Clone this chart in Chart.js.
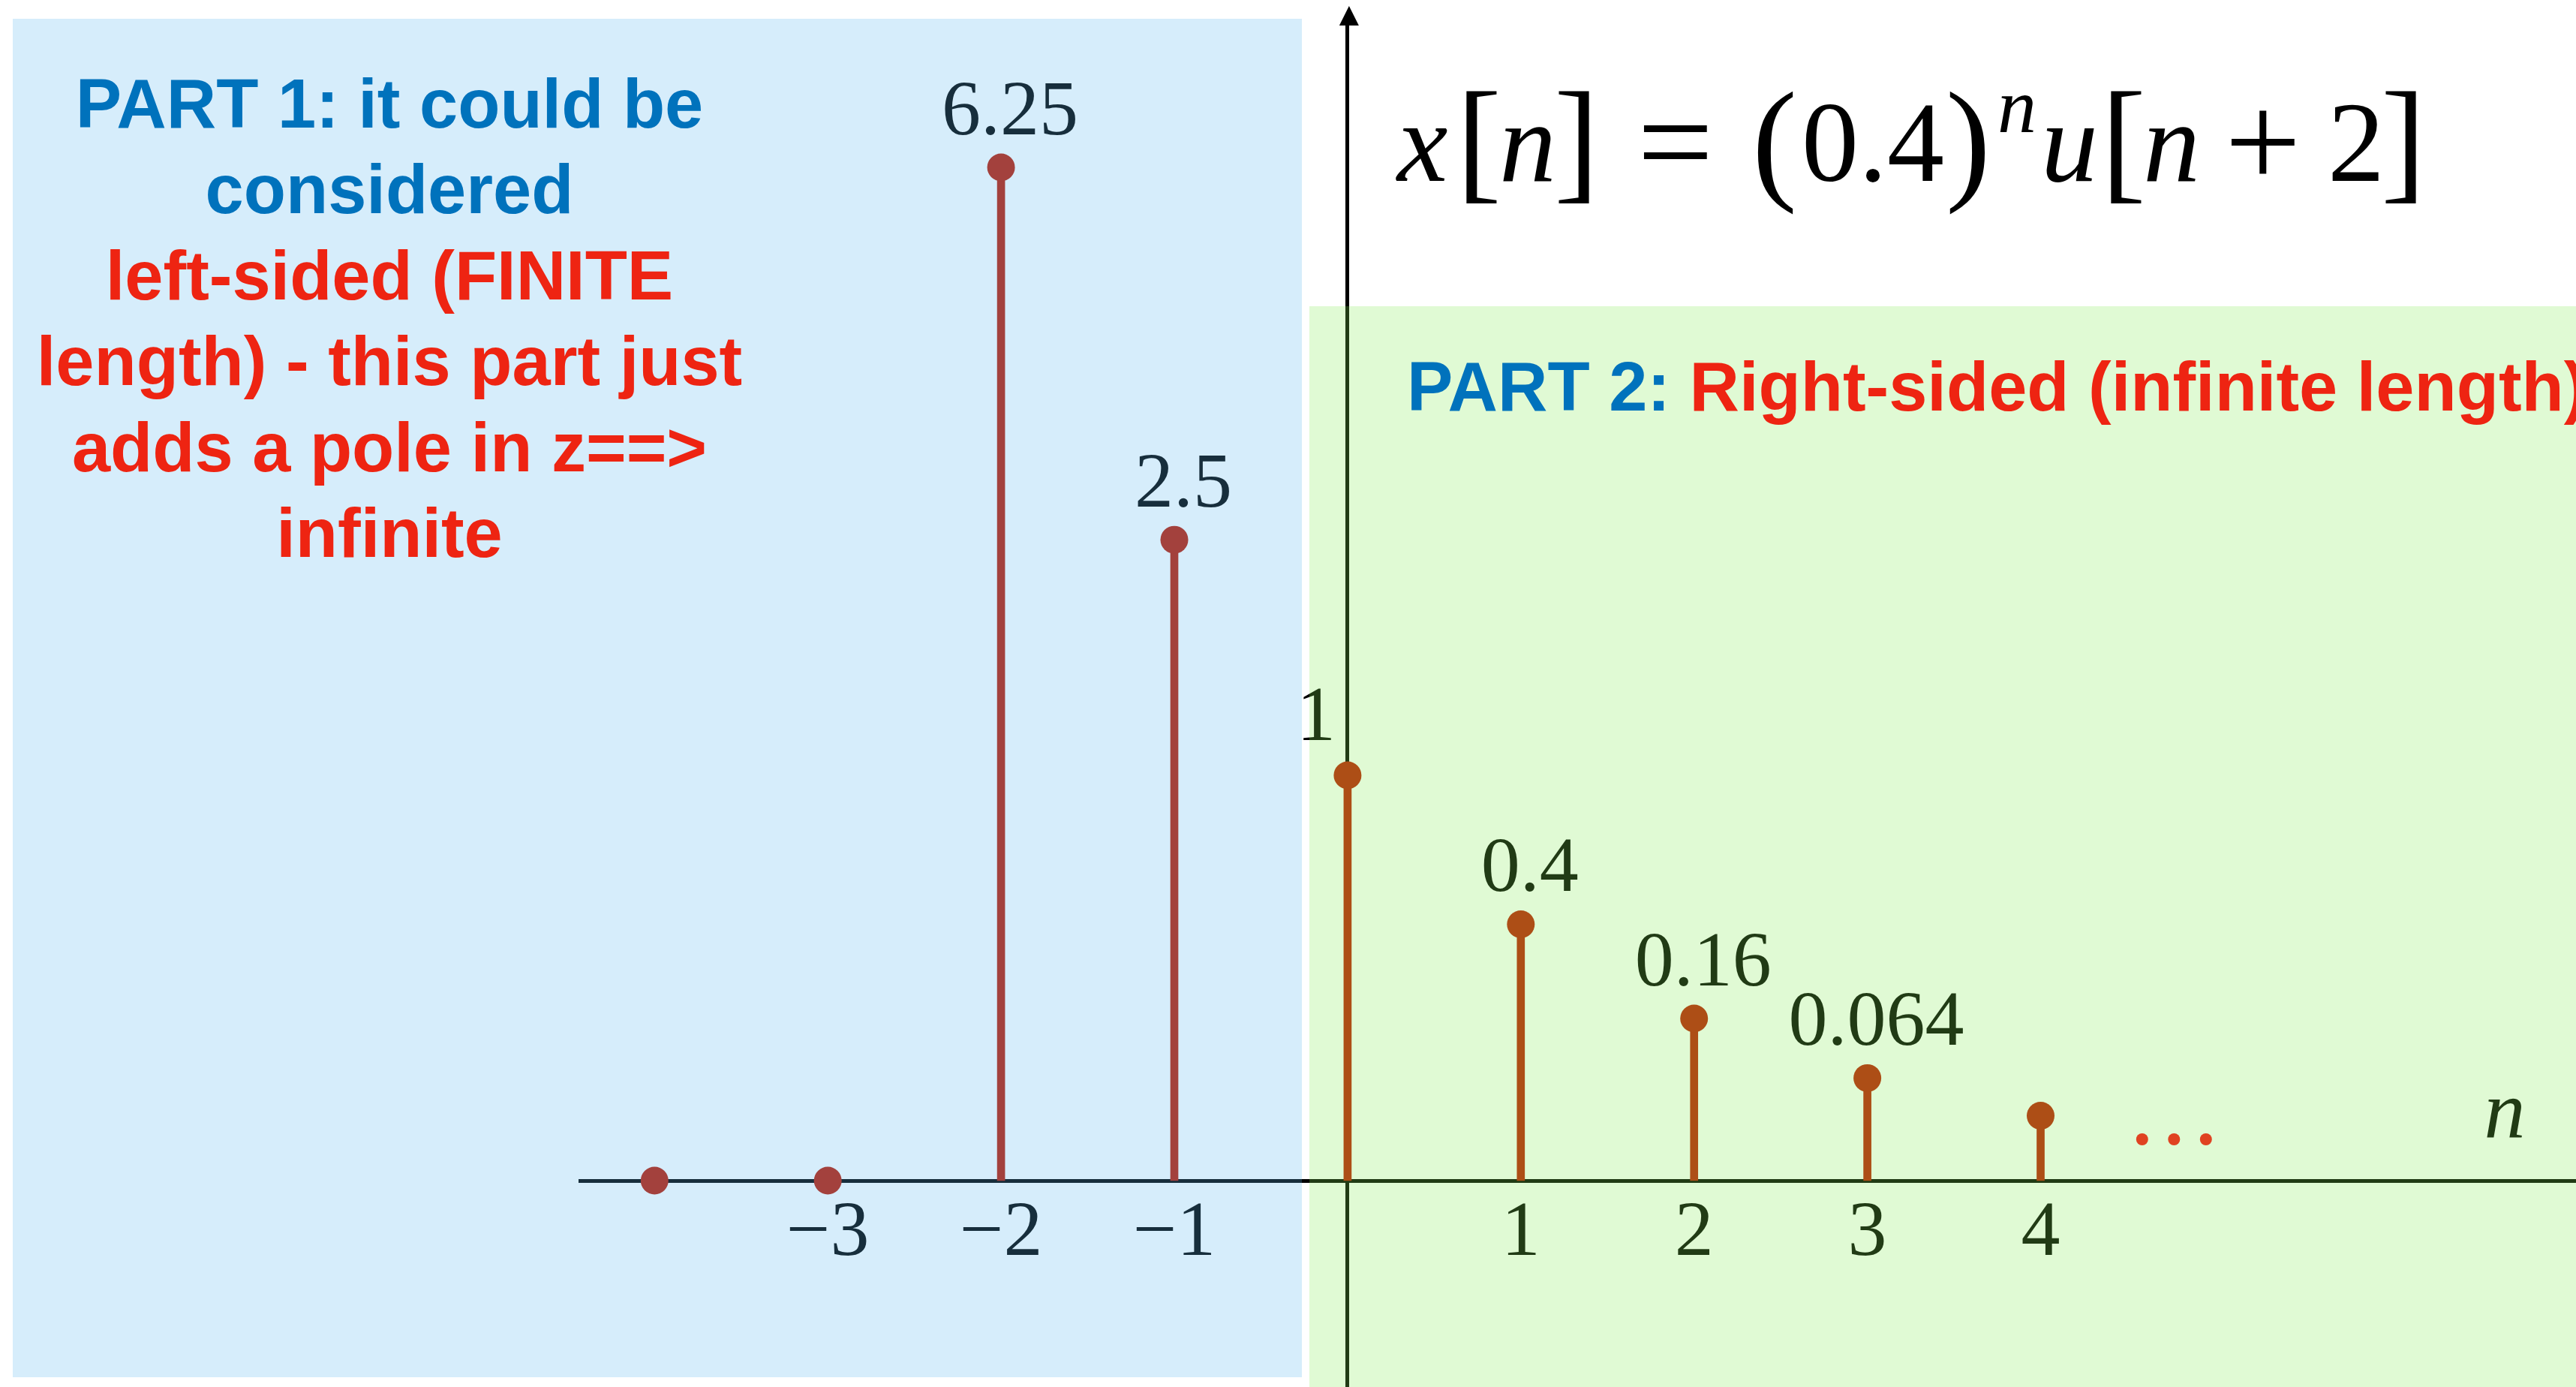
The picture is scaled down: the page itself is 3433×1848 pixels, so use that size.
<!DOCTYPE html>
<html>
<head>
<meta charset="utf-8">
<title>x[n] = (0.4)^n u[n+2]</title>
<script src="https://cdn.jsdelivr.net/npm/chart.js@4.4.1/dist/chart.umd.min.js"></script>
<style>
  html, body { margin: 0; padding: 0; background: #fff; overflow: hidden; }
  #wrap { width: 3433px; height: 1848px; position: relative; }
</style>
</head>
<body>
<div id="wrap"><canvas id="stem"></canvas></div>
<script>
// Samples of x[n] = (0.4)^n u[n+2]
const sampleN = [-4, -3, -2, -1, 0, 1, 2, 3, 4];
const sampleValue = [0, 0, 6.25, 2.5, 1, 0.4, 0.16, 0.064, 0.0256];
const sampleLabelled = [false, false, true, true, true, true, true, true, false];

// Horizontal axis ticks
const tickValues = [-3, -2, -1, 1, 2, 3, 4];
const tickLabels = ['\u22123', '\u22122', '\u22121', '1', '2', '3', '4'];

// Notes drawn over the two regions
const leftNoteLines = ['PART 1: it could be', 'considered', 'left-sided (FINITE',
                       'length) - this part just', 'adds a pole in z==>', 'infinite'];
const leftNoteTones = ['blue', 'blue', 'red', 'red', 'red', 'red'];
const rightNoteParts = [['PART 2: ', 'blue'], ['Right-sided (infinite length)', 'red']];

// Formula pieces: [text, kind, ink gap before]
const formulaPieces = [
  ['x', 'var', 0], ['[', 'delim', 25], ['n', 'var', 8], [']', 'delim', 9],
  ['=', 'op', 72], ['(', 'delim', 67], ['0.4', 'num', 16], [')', 'delim', 9],
  ['n', 'sup', 19], ['u', 'var', 17], ['[', 'delim', 22], ['n', 'var', 7],
  ['+', 'op', 47], ['2', 'num', 50], [']', 'delim', 9]
];

const SERIF = '"Liberation Serif", "Times New Roman", serif';
const SANS = '"Liberation Sans", Arial, Helvetica, sans-serif';
const TONE = { blue: '#0072BC', red: '#EE2412' };
const STEM = '#BB1A02';
const INK = '#000000';

// Square-root value axis: keeps the large left samples and the small right tail readable
class SqrtScale extends Chart.LinearScale {
  static id = 'sqrt';
  _t(v) { return Math.sign(v) * Math.sqrt(Math.abs(v)); }
  getPixelForValue(v) {
    if (v === null || v === undefined || isNaN(v)) return NaN;
    const a = this._t(this.min), b = this._t(this.max);
    return this.getPixelForDecimal((this._t(v) - a) / (b - a));
  }
  getValueForPixel(p) {
    const a = this._t(this.min), b = this._t(this.max);
    const t = a + this.getDecimalForPixel(p) * (b - a);
    return Math.sign(t) * t * t;
  }
}
Chart.register(SqrtScale);

const points = sampleN.map((n, i) => ({ x: n, y: sampleValue[i] }));

const decorations = {
  id: 'decorations',
  beforeDraw(chart) {
    const { ctx, width, height } = chart;
    ctx.save();
    ctx.fillStyle = '#fff';
    ctx.fillRect(0, 0, width, height);
    ctx.restore();
  },
  afterDraw(chart) {
    const { ctx, chartArea, scales: { x, y } } = chart;
    const axisY = y.getPixelForValue(0);
    const axisX = x.getPixelForValue(0);
    const unit = x.getPixelForValue(1) - axisX;
    ctx.save();

    // value labels above the stems
    ctx.fillStyle = INK;
    ctx.textBaseline = 'alphabetic';
    ctx.textAlign = 'center';
    ctx.font = `104px ${SERIF}`;
    sampleN.forEach((n, i) => {
      if (!sampleLabelled[i]) return;
      const px = x.getPixelForValue(n);
      const py = y.getPixelForValue(sampleValue[i]);
      const text = String(sampleValue[i]);
      if (n === 0) ctx.fillText(text, px - 42, py - 47);   // keep clear of the vertical axis
      else ctx.fillText(text, px + 12, py - 44);
    });

    // axis name
    ctx.font = `italic 110px ${SERIF}`;
    ctx.fillText('n', chartArea.right - 95, axisY - 57);

    // continuation dots after the last sample
    ctx.fillStyle = '#FF0A10';
    const cx = x.getPixelForValue(sampleN[sampleN.length - 1]) + 0.77 * unit;
    for (let k = -1; k <= 1; k++) {
      ctx.beginPath();
      ctx.arc(cx + k * 42.5, axisY - 55, 8, 0, Math.PI * 2);
      ctx.fill();
    }

    // arrow head on the vertical axis
    ctx.fillStyle = INK;
    ctx.beginPath();
    ctx.moveTo(axisX + 2, 8);
    ctx.lineTo(axisX + 15, 34);
    ctx.lineTo(axisX - 11, 34);
    ctx.closePath();
    ctx.fill();

    // tinted regions
    ctx.fillStyle = 'rgba(92,184,240,0.25)';
    ctx.fillRect(17, 25, 1718, 1810);
    ctx.fillStyle = 'rgba(132,236,84,0.25)';
    ctx.fillRect(1745, 408, 1688, 1440);

    // region notes
    ctx.font = `bold 92px ${SANS}`;
    ctx.textAlign = 'center';
    leftNoteLines.forEach((line, i) => {
      ctx.fillStyle = TONE[leftNoteTones[i]];
      ctx.fillText(line, 519, 170 + i * 114.4);
    });
    ctx.textAlign = 'left';
    let tx = 1875;
    rightNoteParts.forEach(([text, tone]) => {
      ctx.fillStyle = TONE[tone];
      ctx.fillText(text, tx, 547);
      tx += ctx.measureText(text).width;
    });

    // formula
    ctx.fillStyle = INK;
    const style = {
      var:   { font: `italic 152px ${SERIF}`, base: 241 },
      num:   { font: `152px ${SERIF}`, base: 241 },
      delim: { font: `180px ${SERIF}`, base: 247 },
      op:    { font: `180px ${SERIF}`, base: 249 },
      sup:   { font: `italic 104px ${SERIF}`, base: 176 }
    };
    let inkX = 1860;
    formulaPieces.forEach(([text, kind, gap], i) => {
      const s = style[kind];
      ctx.font = s.font;
      const m = ctx.measureText(text);
      if (i > 0) inkX += gap;
      const ox = inkX + m.actualBoundingBoxLeft;
      ctx.fillText(text, ox, s.base);
      inkX = ox + m.actualBoundingBoxRight;
    });

    ctx.restore();
  }
};

new Chart(document.getElementById('stem'), {
  type: 'scatter',
  data: {
    datasets: [
      {
        type: 'bar',
        data: points,
        backgroundColor: STEM,
        borderWidth: 0,
        barThickness: 10,
        order: 2
      },
      {
        type: 'scatter',
        data: points,
        backgroundColor: STEM,
        borderWidth: 0,
        pointRadius: 18.5,
        order: 1
      }
    ]
  },
  options: {
    responsive: true,
    maintainAspectRatio: false,
    animation: false,
    devicePixelRatio: 1,
    events: [],
    layout: { autoPadding: false, padding: { left: 773, top: 20, right: 0, bottom: 0 } },
    plugins: { legend: { display: false }, tooltip: { enabled: false } },
    scales: {
      x: {
        type: 'linear',
        min: -4.43,
        max: 7.09,
        offset: false,
        position: { y: 0 },
        grid: { display: false, drawTicks: false },
        border: { display: true, color: INK, width: 5 },
        afterBuildTicks: scale => { scale.ticks = tickValues.map(v => ({ value: v })); },
        ticks: {
          autoSkip: false,
          maxRotation: 0,
          padding: 9,
          color: INK,
          font: { family: SERIF, size: 104 },
          callback: v => { const k = tickValues.indexOf(v); return k < 0 ? '' : tickLabels[k]; }
        }
      },
      y: {
        type: 'sqrt',
        min: -0.2593,
        max: 8.271,
        position: { x: 0 },
        grid: { display: false, drawTicks: false },
        border: { display: true, color: INK, width: 5 },
        ticks: { display: false }
      }
    }
  },
  plugins: [decorations]
});
</script>
</body>
</html>
